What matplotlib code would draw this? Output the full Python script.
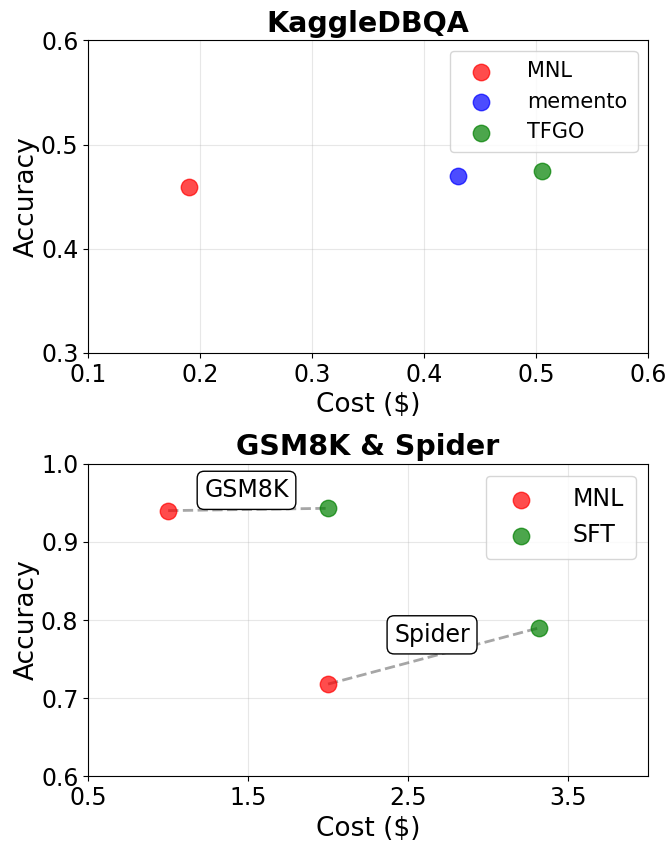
import numpy as np
import matplotlib
matplotlib.use("Agg")
import matplotlib.pyplot as plt

# KaggleDBQA data
kg_methods = ["MNL", "memento", "TFGO"]
kg_cost = [0.19, 0.43, 0.505]
kg_acc = [0.459, 0.470, 0.475]
kg_colors = ["red", "blue", "green"]

# GSM8K & Spider data
gs_cost = {"MNL": [1.0, 2.0], "SFT": [2.0, 3.32]}
gs_acc = {"MNL": [0.940, 0.718], "SFT": [0.943, 0.790]}
gs_colors = {"MNL": "red", "SFT": "green"}
gs_tasks = ["GSM8K", "Spider"]
gs_label_pos = [(1.49, 0.966), (2.65, 0.781)]

fig, (ax1, ax2) = plt.subplots(2, 1, figsize=(6.68, 8.41), dpi=100)
fig.subplots_adjust(left=0.132, right=0.970, top=0.952, bottom=0.077, hspace=0.355)

# top plot
for m, c, a, col in zip(kg_methods, kg_cost, kg_acc, kg_colors):
    ax1.scatter(c, a, s=140, color=col, alpha=0.7, label=m, zorder=3)
ax1.set_xlim(0.1, 0.6)
ax1.set_ylim(0.3, 0.6)
ax1.set_xticks([0.1, 0.2, 0.3, 0.4, 0.5, 0.6])
ax1.set_yticks([0.3, 0.4, 0.5, 0.6])
ax1.set_xlabel("Cost ($)", fontsize=19)
ax1.set_ylabel("Accuracy", fontsize=19, labelpad=1)
ax1.set_title("KaggleDBQA", fontsize=20.5, fontweight="bold")
ax1.tick_params(labelsize=17)
ax1.grid(True, alpha=0.3)
ax1.legend(fontsize=15, loc="upper right", handletextpad=1.2, borderpad=0.5)

# bottom plot
for i, task in enumerate(gs_tasks):
    ax2.plot([gs_cost["MNL"][i], gs_cost["SFT"][i]],
             [gs_acc["MNL"][i], gs_acc["SFT"][i]],
             "--", color="gray", alpha=0.7, linewidth=2, zorder=2)
    ax2.text(gs_label_pos[i][0], gs_label_pos[i][1], task, fontsize=17,
             ha="center", va="center",
             bbox=dict(boxstyle="round,pad=0.3", facecolor="white", edgecolor="black"))
for m in ["MNL", "SFT"]:
    ax2.scatter(gs_cost[m], gs_acc[m], s=140, color=gs_colors[m], alpha=0.7,
                label=m, zorder=3)
ax2.set_xlim(0.5, 4.0)
ax2.set_ylim(0.6, 1.0)
ax2.set_xticks([0.5, 1.5, 2.5, 3.5])
ax2.set_yticks([0.6, 0.7, 0.8, 0.9, 1.0])
ax2.set_xlabel("Cost ($)", fontsize=19)
ax2.set_ylabel("Accuracy", fontsize=19, labelpad=1)
ax2.set_title("GSM8K & Spider", fontsize=20.5, fontweight="bold")
ax2.tick_params(labelsize=17)
ax2.grid(True, alpha=0.3)
ax2.legend(fontsize=17, loc="upper right", handletextpad=1.2, borderpad=0.5)

plt.savefig("out.png", dpi=100)
